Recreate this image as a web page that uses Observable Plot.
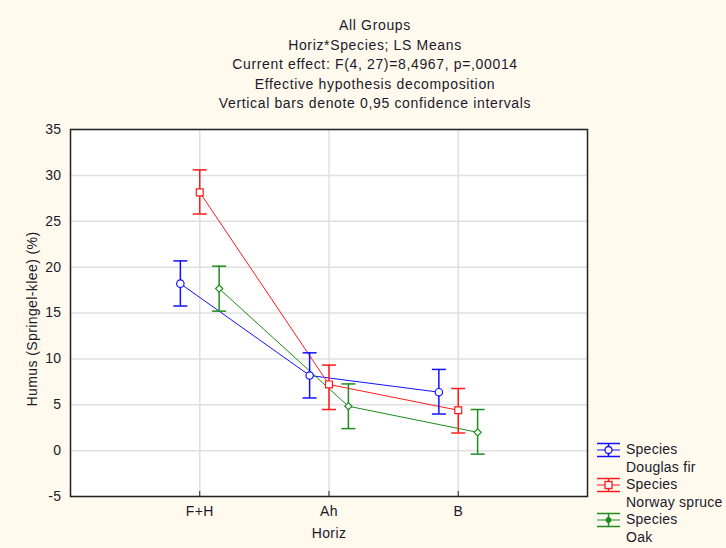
<!DOCTYPE html>
<html><head><meta charset="utf-8">
<script src="https://cdn.jsdelivr.net/npm/d3@7"></script>
<script src="https://cdn.jsdelivr.net/npm/@observablehq/plot@0.6"></script>
<style>
html,body{margin:0;padding:0;background:#fff9ee;}
#wrap{position:relative;width:726px;height:548px;overflow:hidden;background:#fff9ee;font-family:"Liberation Sans",Arial,sans-serif;color:#1a1a2a;}
#chart{position:absolute;left:0;top:0;}
#title{position:absolute;left:125px;width:500px;top:16px;text-align:center;font-size:14px;line-height:19.6px;letter-spacing:0.65px;}
#legend{position:absolute;left:597px;top:441px;font-size:14px;line-height:17.6px;white-space:nowrap;letter-spacing:0.25px;}
.entry{position:relative;padding-left:29px;}
.entry svg{position:absolute;left:0;top:0;}
</style></head>
<body><div id="wrap"><div id="chart"></div><div id="title"></div><div id="legend"></div></div>
<script>
const titleLines = ["All Groups","Horiz*Species; LS Means","Current effect: F(4, 27)=8,4967, p=,00014","Effective hypothesis decomposition","Vertical bars denote 0,95 confidence intervals"];
const horiz = ["F+H","Ah","B"];
const species = ["Douglas fir","Norway spruce","Oak"];
const legendPrefix = "Species";
const colors = ["#1010ff","#ff1a1a","#1e8c1e"];
const yTicks = [-5,0,5,10,15,20,25,30,35];
const xLabel = "Horiz";
const yLabel = "Humus (Springel-klee) (%)";
// LS means and 0.95 CI bounds per species, in horiz order
const meanDouglas = [18.2, 8.19, 6.37];
const lowDouglas  = [15.76, 5.74, 3.99];
const highDouglas = [20.68, 10.66, 8.85];
const meanSpruce = [28.15, 7.21, 4.40];
const lowSpruce  = [25.79, 4.48, 1.92];
const highSpruce = [30.6, 9.32, 6.77];
const meanOak = [17.66, 4.84, 1.99];
const lowOak  = [15.2, 2.40, -0.38];
const highOak = [20.1, 7.27, 4.48];

const means = [meanDouglas, meanSpruce, meanOak];
const lows = [lowDouglas, lowSpruce, lowOak];
const highs = [highDouglas, highSpruce, highOak];
const dodge = 0.15;
const rows = [];
species.forEach((s, si) => horiz.forEach((h, hi) => rows.push({
  species: s, h, x: hi + (si - 1) * dodge, mean: means[si][hi], lo: lows[si][hi], up: highs[si][hi]
})));

const cap = {draw(ctx) { ctx.moveTo(-7, 0); ctx.lineTo(7, 0); }};
const xIdx = horiz.map((_, i) => i);
const markerSyms = ["circle", "square", "diamond2"];
const markerR = [3.7, 3.9, 3.2];

const chart = Plot.plot({
  width: 726, height: 548,
  marginLeft: 70, marginRight: 139, marginTop: 129, marginBottom: 52,
  style: {background: "transparent", fontSize: "14px", fontFamily: '"Liberation Sans", Arial, sans-serif', color: "#1a1a2a", overflow: "visible", letterSpacing: "0.4px"},
  x: {domain: [-1, 3]},
  y: {domain: [-5, 35]},
  color: {domain: species, range: colors},
  marks: [
    Plot.frame({fill: "white"}),
    Plot.gridY(yTicks, {stroke: "#e0e0e0", strokeOpacity: 1, strokeWidth: 1.5}),
    Plot.gridX(xIdx, {stroke: "#e0e0e0", strokeOpacity: 1, strokeWidth: 1.5}),
    Plot.ruleX(xIdx, {insetTop: 362, stroke: "#222"}),
    Plot.axisY(yTicks, {tickSize: 0, tickPadding: 9, label: null, tickFormat: d => String(d)}),
    Plot.axisX(xIdx, {tickSize: 0, tickPadding: 10, tickFormat: i => horiz[i], label: null}),
    Plot.text([xLabel], {frameAnchor: "bottom", dy: 41}),
    Plot.text([yLabel], {frameAnchor: "left", textAnchor: "middle", rotate: -90, dx: -38, dy: 6, style: {letterSpacing: "1.9px"}}),
    Plot.line(rows, {x: "x", y: "mean", z: "species", stroke: "species", strokeWidth: 1}),
    Plot.ruleX(rows, {x: "x", y1: "lo", y2: "up", stroke: "species", strokeWidth: 1.5}),
    Plot.dot(rows, {x: "x", y: "lo", symbol: cap, stroke: "species", strokeWidth: 1.5}),
    Plot.dot(rows, {x: "x", y: "up", symbol: cap, stroke: "species", strokeWidth: 1.5}),
    ...species.map((s, si) => Plot.dot(rows, {filter: d => d.species === s, x: "x", y: "mean", symbol: markerSyms[si], r: markerR[si], stroke: "species", fill: "white", strokeWidth: 1.2})),
    Plot.frame({stroke: "#222", strokeWidth: 1.5})
  ]
});
document.getElementById("chart").append(chart);
document.getElementById("title").innerHTML = titleLines.map(t => `<div>${t}</div>`).join("");

const legendMarker = [
  c => `<circle cx="11.5" cy="9" r="3.5" fill="white" stroke="${c}" stroke-width="1.3"/>`,
  c => `<rect x="8" y="5.5" width="7" height="7" fill="white" stroke="${c}" stroke-width="1.3"/>`,
  c => `<circle cx="11.5" cy="9" r="2.5" fill="${c}" stroke="${c}"/>`
];
document.getElementById("legend").innerHTML = species.map((s, si) => {
  const c = colors[si];
  return `<div class="entry"><svg width="24" height="18"><line x1="0" x2="23" y1="2.5" y2="2.5" stroke="${c}" stroke-width="1.5"/><line x1="0" x2="23" y1="15.5" y2="15.5" stroke="${c}" stroke-width="1.5"/><line x1="0" x2="23" y1="9" y2="9" stroke="${c}" stroke-width="1"/><line x1="11.5" x2="11.5" y1="2.5" y2="15.5" stroke="${c}" stroke-width="1.5"/>${legendMarker[si](c)}</svg>${legendPrefix}<br>${s}</div>`;
}).join("");
</script>
</body></html>
